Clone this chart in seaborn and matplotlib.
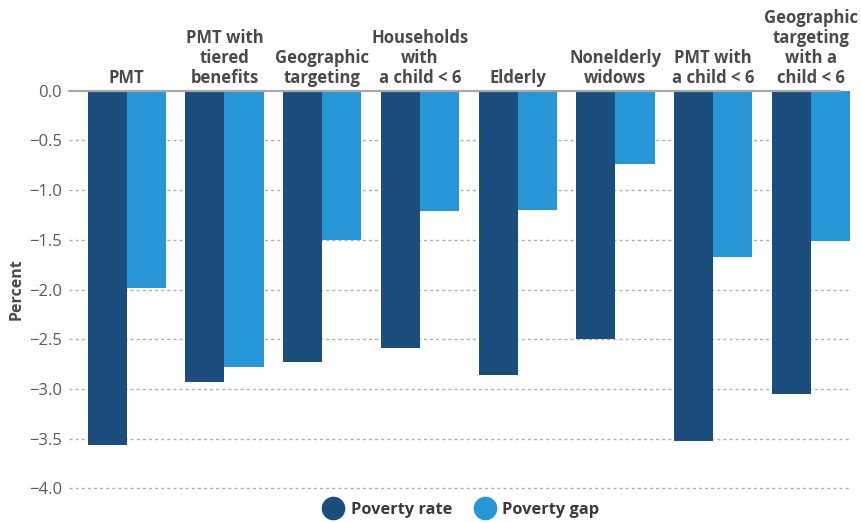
import matplotlib
matplotlib.use("Agg")
import matplotlib.pyplot as plt
from matplotlib.lines import Line2D
import seaborn as sns
import pandas as pd

categories = [
    "PMT",
    "PMT with\ntiered\nbenefits",
    "Geographic\ntargeting",
    "Households\nwith\na child < 6",
    "Elderly",
    "Nonelderly\nwidows",
    "PMT with\na child < 6",
    "Geographic\ntargeting\nwith a\nchild < 6",
]
poverty_rate = [-3.56, -2.93, -2.73, -2.59, -2.86, -2.50, -3.52, -3.05]
poverty_gap = [-1.98, -2.78, -1.50, -1.21, -1.20, -0.74, -1.67, -1.51]
series = ["Poverty rate", "Poverty gap"]
y_ticks = [0.0, -0.5, -1.0, -1.5, -2.0, -2.5, -3.0, -3.5, -4.0]

colors = {"Poverty rate": "#1B4E7C", "Poverty gap": "#2696D6"}

df = pd.DataFrame({
    "category": categories * 2,
    "series": [series[0]] * len(categories) + [series[1]] * len(categories),
    "value": poverty_rate + poverty_gap,
})

sns.set_theme(style="white")
plt.rcParams["font.family"] = ["Open Sans", "DejaVu Sans"]

fig = plt.figure(figsize=(8.61, 5.22), dpi=100)
W, H = 861, 522
ax = fig.add_axes([69 / W, 1 - 488.3 / H, (851 - 69) / W, (488.3 - 90.7) / H])

sns.barplot(data=df, x="category", y="value", hue="series", order=categories,
            hue_order=series, palette=colors, width=0.8, saturation=1,
            linewidth=0, edgecolor="none", legend=False, ax=ax, zorder=3)

ax.set_xlim(-0.59, 7.41)
ax.set_ylim(-4.0, 0.0)
ax.set_yticks(y_ticks)
ax.set_yticklabels([f"{t:.1f}".replace("-", "\u2212") for t in y_ticks],
                   color="#5A5A5A", fontsize=12)

# dotted horizontal grid below zero, solid baseline at zero
for t in y_ticks[1:]:
    ax.axhline(t, color="#AFAFAF", lw=1.0, ls=(0, (2.2, 2.2)), zorder=1,
               clip_on=False)
ax.axhline(0, xmin=0, xmax=(840 - 69) / (851 - 69), color="#A8A8A8",
           lw=1.6, zorder=4, clip_on=False)

# category labels above the plotting area
ax.xaxis.tick_top()
ax.set_xticks(range(len(categories)))
ax.set_xticklabels(categories, fontweight="bold", color="#4A4A4A",
                   fontsize=12, linespacing=1.12)
ax.tick_params(axis="x", length=0, pad=3)
ax.tick_params(axis="y", length=0, pad=5)
ax.set_xlabel("")
ax.set_ylabel("Percent", fontweight="bold", color="#4A4A4A", fontsize=11.5,
              labelpad=3)

for s in ax.spines.values():
    s.set_visible(False)

handles = [Line2D([], [], marker="o", ls="", markersize=16,
                  markerfacecolor=colors[s], markeredgecolor=colors[s])
           for s in series]
leg = fig.legend(handles, series, loc="center", bbox_to_anchor=(458 / W, 1 - 510 / H),
                 ncol=2, frameon=False, handletextpad=0.05, columnspacing=1.0,
                 prop={"weight": "bold", "size": 11.8})
for txt in leg.get_texts():
    txt.set_color("#3A3A3A")

fig.savefig("out.png", dpi=100)
